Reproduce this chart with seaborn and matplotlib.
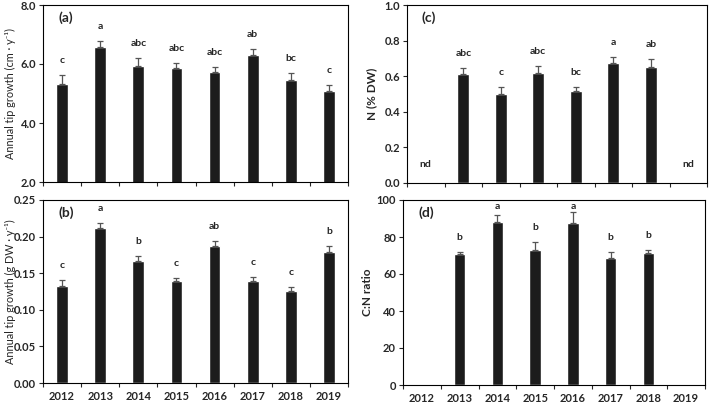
import numpy as np
import pandas as pd
import matplotlib
matplotlib.use("Agg")
import matplotlib.pyplot as plt
import seaborn as sns

# data
years = ["2012", "2013", "2014", "2015", "2016", "2017", "2018", "2019"]

tip_cm = [5.33, 6.57, 5.93, 5.88, 5.72, 6.32, 5.47, 5.10]
tip_cm_err = [0.31, 0.20, 0.26, 0.17, 0.18, 0.20, 0.21, 0.20]
tip_cm_letters = ["c", "a", "abc", "abc", "abc", "ab", "bc", "c"]

tip_g = [0.133, 0.212, 0.167, 0.139, 0.1875, 0.140, 0.126, 0.179]
tip_g_err = [0.008, 0.006, 0.007, 0.004, 0.007, 0.005, 0.005, 0.008]
tip_g_letters = ["c", "a", "b", "c", "ab", "c", "c", "b"]

n_years = ["2013", "2014", "2015", "2016", "2017", "2018"]
n_pct = [0.615, 0.500, 0.618, 0.519, 0.674, 0.651]
n_pct_err = [0.031, 0.041, 0.041, 0.020, 0.034, 0.043]
n_letters = ["abc", "c", "abc", "bc", "a", "ab"]
nd_years = ["2012", "2019"]

cn_ratio = [70.6, 88.3, 73.0, 87.7, 68.6, 71.2]
cn_err = [1.2, 3.6, 4.3, 6.0, 3.4, 2.0]
cn_letters = ["b", "a", "b", "a", "b", "b"]

sns.set_style("ticks")
plt.rcParams["font.family"] = ["Lato", "DejaVu Sans"]
plt.rcParams["font.weight"] = "bold"

fig = plt.figure(figsize=(7.09, 4.03), dpi=100)
W, H = 709, 403


def px_axes(left, right, top, bottom):
    ax = fig.add_axes([left / W, (H - bottom) / H, (right - left) / W, (bottom - top) / H])
    ax.h_px = bottom - top
    return ax


ax_a = px_axes(43, 348, 5, 182)
ax_b = px_axes(43, 348, 200, 383)
ax_c = px_axes(407, 707, 5, 183)
ax_d = px_axes(403, 705, 200, 385)


def draw_panel(ax, cats, vals, errs, letters, ylim, yticks, fmt, ylabel, tag,
               show_xlabels, ylab_x, ylab_weight="normal", ylab_size=8.5):
    df = pd.DataFrame({"year": cats, "val": vals})
    sns.barplot(data=df, x="year", y="val", order=years, color="#1c1c1c",
                width=0.31, saturation=1, errorbar=None, ax=ax)
    xs = [years.index(c) for c in cats]
    ax.errorbar(xs, vals, yerr=[np.zeros(len(errs)), errs], fmt="none",
                ecolor="#555555", elinewidth=0.9, capsize=2.5, capthick=0.9)
    rng = ylim[1] - ylim[0]
    for x, v, e, lab in zip(xs, vals, errs, letters):
        yt = min(v + e + 14.5 / ax.h_px * rng, ylim[1] - 0.035 * rng)
        ax.text(x, yt, lab, ha="center", va="center", fontsize=7.5, fontweight="bold")
    ax.set_xlim(-0.5, 7.5)
    ax.set_ylim(*ylim)
    ax.set_yticks(yticks)
    ax.set_yticklabels([fmt.format(t) for t in yticks], fontsize=8, fontweight="bold")
    ax.set_xticks(np.arange(-0.5, 8.0, 1.0))
    ax.set_xticklabels([])
    ax.tick_params(axis="x", which="major", length=3, width=0.8, direction="out")
    ax.tick_params(axis="y", length=3, width=0.8, direction="out", pad=2)
    if show_xlabels:
        ax.set_xticks(np.arange(8), minor=True)
        ax.set_xticklabels(years, minor=True, fontsize=8, fontweight="bold")
        ax.tick_params(axis="x", which="minor", length=0, pad=6)
    ax.set_xlabel("")
    ax.set_ylabel(ylabel, fontsize=ylab_size, fontweight=ylab_weight)
    ax.yaxis.label.set_va("center")
    ax.yaxis.set_label_coords(ylab_x, 0.5)
    for s in ax.spines.values():
        s.set_visible(True)
        s.set_color("black")
        s.set_linewidth(0.8)
    ax.text(0.05, 0.93, tag, transform=ax.transAxes, fontsize=10,
            fontweight="bold", ha="left", va="center")


draw_panel(ax_a, years, tip_cm, tip_cm_err, tip_cm_letters, (2.0, 8.0),
           [2.0, 4.0, 6.0, 8.0], "{:.1f}", "Annual tip growth (cm · y⁻¹)", "(a)",
           False, -0.108, ylab_size=7.8)
draw_panel(ax_b, years, tip_g, tip_g_err, tip_g_letters, (0.0, 0.25),
           [0.0, 0.05, 0.10, 0.15, 0.20, 0.25], "{:.2f}",
           "Annual tip growth (g DW · y⁻¹)", "(b)", True, -0.108, ylab_size=7.8)
draw_panel(ax_c, n_years, n_pct, n_pct_err, n_letters, (0.0, 1.0),
           [0.0, 0.2, 0.4, 0.6, 0.8, 1.0], "{:.1f}", "N (% DW)", "(c)", False,
           -0.117, "bold")
draw_panel(ax_d, n_years, cn_ratio, cn_err, cn_letters, (0, 100),
           [0, 20, 40, 60, 80, 100], "{:.0f}", "C:N ratio", "(d)", True,
           -0.119, "bold")

for y in nd_years:
    ax_c.text(years.index(y), 0.105, "nd", ha="center", va="center",
              fontsize=7.5, fontweight="bold")

fig.savefig("out.png", dpi=100)
